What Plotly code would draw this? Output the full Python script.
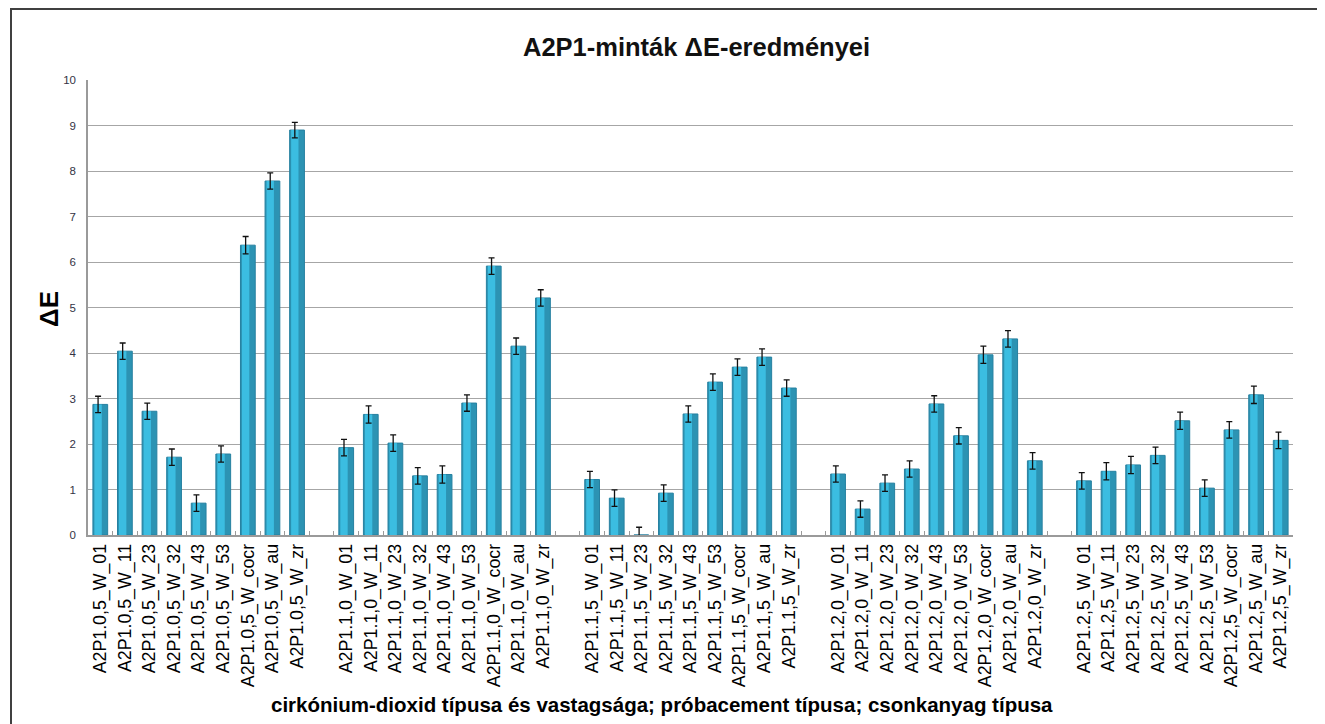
import plotly.graph_objects as go

groups = ["0,5", "1,0", "1,5", "2,0", "2,5"]
suffixes = ["01", "11", "23", "32", "43", "53", "cocr", "au", "zr"]

values_05 = [2.87, 4.04, 2.72, 1.71, 0.70, 1.78, 6.37, 7.78, 8.90]
values_10 = [1.92, 2.65, 2.02, 1.30, 1.33, 2.90, 5.91, 4.15, 5.21]
values_15 = [1.22, 0.81, 0.00, 0.92, 2.66, 3.36, 3.69, 3.91, 3.23]
values_20 = [1.34, 0.57, 1.14, 1.45, 2.88, 2.18, 3.96, 4.31, 1.63]
values_25 = [1.19, 1.40, 1.54, 1.75, 2.51, 1.03, 2.31, 3.08, 2.08]

errors_05 = [0.18, 0.18, 0.18, 0.18, 0.18, 0.18, 0.19, 0.18, 0.17]
errors_10 = [0.18, 0.19, 0.18, 0.18, 0.19, 0.18, 0.18, 0.18, 0.18]
errors_15 = [0.18, 0.18, 0.17, 0.18, 0.18, 0.18, 0.18, 0.18, 0.18]
errors_20 = [0.18, 0.18, 0.18, 0.18, 0.18, 0.18, 0.19, 0.18, 0.18]
errors_25 = [0.18, 0.19, 0.19, 0.18, 0.19, 0.18, 0.18, 0.19, 0.18]

all_values = [values_05, values_10, values_15, values_20, values_25]
all_errors = [errors_05, errors_10, errors_15, errors_20, errors_25]

cats, ys, errs = [], [], []
for gi, g in enumerate(groups):
    for si, s in enumerate(suffixes):
        cats.append(f"A2P1.{g}_W_{s}")
        ys.append(all_values[gi][si])
        errs.append(all_errors[gi][si])
    if gi < len(groups) - 1:
        cats.append(" " * (gi + 1))
        ys.append(None)
        errs.append(None)

# page body has an 8px margin, so the figure is placed at (8, 8)
OFF = 8
W, H = 1325 - OFF, 724 - OFF
L, R, T, B = 88 - OFF, 32, 80 - OFF, 189
pw, ph = W - L - R, H - T - B

def px(x):
    return (x - OFF - L) / pw

def py(y):
    return (H - B - (y - OFF)) / ph

fig = go.Figure()
fig.add_trace(go.Bar(
    x=cats, y=ys,
    marker=dict(color="#2c93b3", line=dict(color="#2680a0", width=1)),
    width=0.6, hoverinfo="skip",
))
fig.add_trace(go.Bar(
    x=cats, y=ys,
    marker=dict(color="#3bbde1", line=dict(width=0)),
    width=0.3, offset=-0.24,
    error_y=dict(type="data", array=errs, visible=True, color="#111111", thickness=1.3, width=3),
))

fig.update_layout(
    width=W, height=H,
    margin=dict(l=L, r=R, t=T, b=B),
    paper_bgcolor="white", plot_bgcolor="white",
    showlegend=False, barmode="overlay",
    font=dict(family="Liberation Sans, Arial, sans-serif", color="#000000"),
    xaxis=dict(
        type="category", tickangle=-90, tickfont=dict(size=17.8, color="#000000"),
        showline=True, linecolor="#9a9a9a", linewidth=1.5,
        ticks="inside", ticklen=4, tickcolor="#9a9a9a", tickson="boundaries",
        showgrid=False, range=[-0.5, len(cats) - 0.5], automargin=False,
    ),
    yaxis=dict(
        range=[0, 10], dtick=1, tickfont=dict(size=11.5, color="#333344"),
        showgrid=True, gridcolor="#a6a6a6", gridwidth=1.2,
        showline=True, linecolor="#9a9a9a", linewidth=1.5,
        ticks="", ticklabelstandoff=8, zeroline=False, automargin=False,
    ),
    shapes=[dict(type="rect", xref="paper", yref="paper",
                 x0=px(11), x1=px(1340), y0=py(745), y1=py(9),
                 line=dict(color="#404040", width=2), fillcolor="rgba(0,0,0,0)", layer="below")],
    annotations=[
        dict(text="<b>A2P1-minták ΔE-eredményei</b>", xref="paper", yref="paper",
             x=px(696), y=py(47), showarrow=False, font=dict(size=25.5, color="#111111"),
             xanchor="center", yanchor="middle"),
        dict(text="<b>ΔE</b>", xref="paper", yref="paper", x=px(49), y=py(309),
             showarrow=False, textangle=-90, font=dict(size=26, color="#000000"),
             xanchor="center", yanchor="middle"),
        dict(text="<b>cirkónium-dioxid típusa és vastagsága; próbacement típusa; csonkanyag típusa</b>",
             xref="paper", yref="paper", x=px(662), y=py(704), showarrow=False,
             font=dict(size=20.5, color="#000000"), xanchor="center", yanchor="middle"),
    ],
)

fig.write_html("out.html")
